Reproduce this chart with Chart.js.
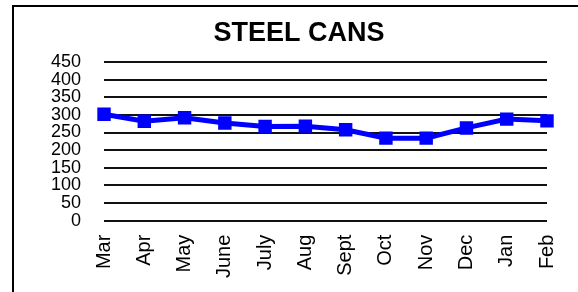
<html>
  <head>
    <style>
body {
  margin: 0;
  background: #fff;
}

#wrap {
  position: relative;
  width: 578px;
  height: 292px;
}

#frame {
  position: absolute;
  left: 12px;
  top: 5px;
  width: 580px;
  height: 300px;
  border-left: 2px solid #000;
  border-top: 2px solid #000;
  pointer-events: none;
}
    </style>
  </head>
  <body>
    <div id="wrap">
      <canvas id="chart" width="578" height="292"></canvas>
      <div id="frame"></div>
    </div>
    <script src="https://cdn.jsdelivr.net/npm/chart.js"></script>
    <script>

const months = ['Mar', 'Apr', 'May', 'June', 'July', 'Aug', 'Sept', 'Oct', 'Nov', 'Dec', 'Jan', 'Feb']
const steelCans = [302, 282, 292, 277, 267, 268, 258, 234, 234, 263, 288, 283]
const yTicks = [0, 50, 100, 150, 200, 250, 300, 350, 400, 450]
const chartTitle = 'STEEL CANS'

const fontFamily = '"Liberation Sans", Arial, sans-serif'

// title sits a bit right of the plot centre in the original, so draw it by hand
const titlePlugin = {
  id: 'titleText',
  afterDraw(chart) {
    const c = chart.ctx
    c.save()
    c.font = 'bold 27px ' + fontFamily
    c.fillStyle = '#000'
    c.textAlign = 'center'
    c.textBaseline = 'middle'
    c.fillText(chartTitle, 299, 34)
    c.restore()
  }
}

const ctx = document.getElementById('chart').getContext('2d')
const chart = new Chart(ctx, {
  type: 'line',
  data: {
    labels: months,
    datasets: [{
      label: chartTitle,
      data: steelCans,
      borderColor: '#0000ff',
      backgroundColor: '#0000ff',
      borderWidth: 5,
      pointStyle: 'rect',
      pointRadius: 9.5,
      pointHoverRadius: 9.5,
      pointBorderWidth: 0,
      tension: 0
    }]
  },
  options: {
    responsive: false,
    animation: false,
    layout: {
      padding: { left: 28, right: 31, top: 62, bottom: 0 }
    },
    plugins: {
      legend: { display: false },
      tooltip: { enabled: false },
      title: { display: false }
    },
    scales: {
      x: {
        offset: false,
        grid: { display: false, drawTicks: false },
        border: { display: false },
        afterFit: axis => {
          // rotated end labels ask for too much side room
          axis.paddingLeft = 0
          axis.paddingRight = 0
        },
        ticks: {
          color: '#000',
          font: { family: fontFamily, size: 20 },
          minRotation: 90,
          maxRotation: 90,
          autoSkip: false,
          padding: 14
        }
      },
      y: {
        min: yTicks[0],
        max: yTicks[yTicks.length - 1],
        afterBuildTicks: axis => {
          axis.ticks = yTicks.map(v => ({ value: v }))
        },
        grid: { color: '#111', lineWidth: 2, drawTicks: false },
        border: { display: false },
        ticks: {
          color: '#000',
          font: { family: fontFamily, size: 18, lineHeight: 1 },
          autoSkip: false,
          padding: 23
        }
      }
    }
  },
  plugins: [titlePlugin]
})
    </script>
  </body>
</html>
